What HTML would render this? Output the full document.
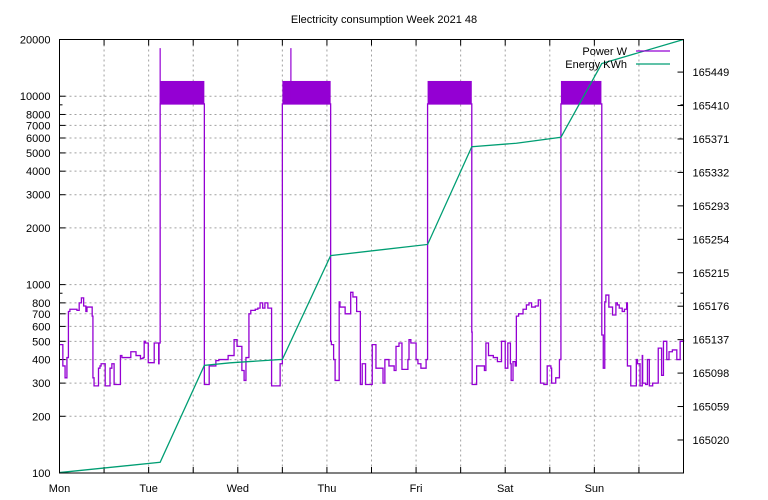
<!DOCTYPE html>
<html><head><meta charset="utf-8"><style>
html,body{margin:0;padding:0;background:#fff;}
svg{display:block;font-family:"Liberation Sans",sans-serif;}
</style></head><body>
<svg id="c" width="768" height="500" xmlns="http://www.w3.org/2000/svg"></svg>
<script>
const dayLabels=["Mon","Tue","Wed","Thu","Fri","Sat","Sun"];
const leftTicks=[100,200,300,400,500,600,700,800,1000,2000,3000,4000,5000,6000,7000,8000,10000,20000];
const rightTicks=[165020,165059,165098,165137,165176,165215,165254,165293,165332,165371,165410,165449];
const powerHours=[0,0.9,1.5,2.0,2.4,2.8,4.7,5.3,5.9,6.5,7.1,7.4,8.8,9.0,9.3,10.5,10.9,11.2,12.3,13.6,14.1,14.7,16.4,16.8,19.2,20.6,21.8,22.5,22.8,23.1,23.9,25.5,26.7,26.8,27.1,
39.0,40.3,42.1,42.9,45.4,47.0,47.8,49.1,49.7,50.2,51.0,51.5,52.7,53.4,54.0,54.7,55.3,56.1,57.1,59.4,59.6,60.0,
73.0,73.2,73.8,74.2,75.3,75.5,76.9,78.0,78.4,79.0,80.0,81.0,81.5,82.4,84.2,85.2,87.1,87.6,88.7,90.1,90.6,91.4,92.2,93.8,94.1,94.6,96.0,96.5,97.3,98.7,99.1,
111.0,111.1,112.3,114.4,114.8,115.5,116.8,117.9,119.0,120.0,120.7,121.4,121.6,122.1,122.7,123.0,123.6,124.8,125.7,126.4,127.1,128.1,128.9,129.5,130.4,131.3,132.3,132.5,133.6,134.6,135.0,
146.0,146.4,146.8,147.1,147.9,148.9,149.8,150.2,150.7,151.5,152.1,152.7,152.9,153.8,155.3,155.6,156.3,156.9,157.0,157.8,158.3,158.8,159.7,161.2,162.1,162.6,163.5,164.1,165.0,166.2,167.1,168];
const powerWatts=[480,370,320,410,720,740,730,800,850,770,720,760,680,320,290,360,370,380,290,360,380,295,420,410,440,420,405,410,500,490,385,490,380,490,9100,
295,370,395,400,420,510,470,350,310,410,700,730,740,750,800,750,800,750,290,380,380,9100,
500,480,400,310,810,760,700,700,910,860,720,295,380,295,480,360,300,400,370,350,470,490,355,400,510,490,400,380,360,400,9100,
560,295,370,350,490,420,410,390,500,360,490,380,310,390,370,680,700,740,780,800,760,770,830,300,295,370,360,300,320,400,9100,
540,360,810,880,760,690,800,780,750,720,740,800,370,290,400,380,290,420,300,295,400,290,300,460,330,500,400,440,450,400,500,510,510];
const blockStart=[27.1,60.0,99.1,135.0];
const blockEnd=[39.0,73.0,111.0,145.9];
const blockLow=[9100,9100,9100,9100];
const blockHigh=[12050,12050,12050,12050];
const spikeHours=[27.1,62.3];
const spikeWatts=[18000,18000];
const energyHours=[0,27.1,39.0,46,60,73,99.1,111,123,135,146,168];
const energyKWh=[164982,164994,165107,165110,165114,165235,165248,165362,165366,165373,165459,165487];

const L=59.5,R=683.5,T=39.5,B=473;
const xs=h=>L+(R-L)*h/168;
const yl=w=>B-(B-T)*(Math.log10(w)-2)/(Math.log10(20000)-2);
const kMin=164981.5,kMax=165487;
const yr=k=>B-(B-T)*(k-kMin)/(kMax-kMin);
const svg=document.getElementById('c');
const NS="http://www.w3.org/2000/svg";
function mk(tag,attrs,name,parent){const e=document.createElementNS(NS,tag);for(const k in attrs)e.setAttribute(k,attrs[k]);


(parent||svg).appendChild(e);return e;}
function txt(x,y,s,anchor,name){const t=mk('text',{x:x,y:y,'font-size':11,'text-anchor':anchor,fill:'#000'},name);t.textContent=s;return t;}

txt(384,23,"Electricity consumption Week 2021 48","middle","chart-title");
// grid
const grid=mk('g',{stroke:'#a0a0a0','stroke-width':1,'stroke-dasharray':'2,3'},'grid');
for(let i=1;i<14;i++){const x=xs(i*12);mk('line',{x1:x,y1:T,x2:x,y2:B},'x-grid-line',grid);}
leftTicks.forEach(v=>{if(v>100&&v<20000){const y=yl(v);mk('line',{x1:L,y1:y,x2:R,y2:y},'y-grid-line',grid);}});
// ticks
const tk=mk('g',{stroke:'#000','stroke-width':1},'ticks');
leftTicks.forEach(v=>{const y=yl(v);mk('line',{x1:L,y1:y,x2:L+6,y2:y},'left-tick',tk);});
[900,9000].forEach(v=>{const y=yl(v);mk('line',{x1:L,y1:y,x2:L+3,y2:y},'left-minor-tick',tk);mk('line',{x1:R,y1:y,x2:R-3,y2:y},'right-minor-tick',tk);});
rightTicks.forEach(v=>{const y=yr(v);mk('line',{x1:R,y1:y,x2:R-6,y2:y},'right-tick',tk);});
for(let i=1;i<14;i++){const x=xs(i*12);mk('line',{x1:x,y1:B,x2:x,y2:B-6},'x-tick',tk);mk('line',{x1:x,y1:T,x2:x,y2:T+6},'x-top-tick',tk);}
// labels
leftTicks.forEach(v=>{if(v!==900&&v!==9000)txt(L-9,yl(v)+4,String(v),"end","left-tick-label");});
rightTicks.forEach(v=>txt(R+9,yr(v)+4,String(v),"start","right-tick-label"));
dayLabels.forEach((d,i)=>txt(xs(i*24),492,d,"middle","x-tick-label"));
// blocks
blockStart.forEach((s,i)=>{mk('rect',{x:xs(s),y:yl(blockHigh[i]),width:xs(blockEnd[i])-xs(s),height:yl(blockLow[i])-yl(blockHigh[i]),fill:'#9400d3'},'power-peak-block');});
spikeHours.forEach((h,i)=>{mk('line',{x1:xs(h),y1:yl(spikeWatts[i]),x2:xs(h),y2:yl(9100),stroke:'#9400d3','stroke-width':1.2},'power-spike');});
// power step line
let d="M"+xs(powerHours[0])+","+yl(powerWatts[0]);
for(let i=1;i<powerHours.length;i++){d+=" H"+xs(powerHours[i])+" V"+yl(powerWatts[i]);}
mk('path',{d:d,fill:'none',stroke:'#9400d3','stroke-width':1.3},'power-series');
// energy
let e="";energyHours.forEach((h,i)=>{e+=(i?" L":"M")+xs(h)+","+yr(energyKWh[i]);});
mk('path',{d:e,fill:'none',stroke:'#009e73','stroke-width':1.3},'energy-series');
// frame
mk('rect',{x:L,y:T,width:R-L,height:B-T,fill:'none',stroke:'#000','stroke-width':1},'plot-frame');
// legend
txt(627,55,"Power W","end","legend-power-label");
mk('line',{x1:636,y1:51,x2:670,y2:51,stroke:'#9400d3','stroke-width':1.3},'legend-power-line');
txt(627,68,"Energy KWh","end","legend-energy-label");
mk('line',{x1:636,y1:64,x2:670,y2:64,stroke:'#009e73','stroke-width':1.3},'legend-energy-line');
</script>
</body></html>
